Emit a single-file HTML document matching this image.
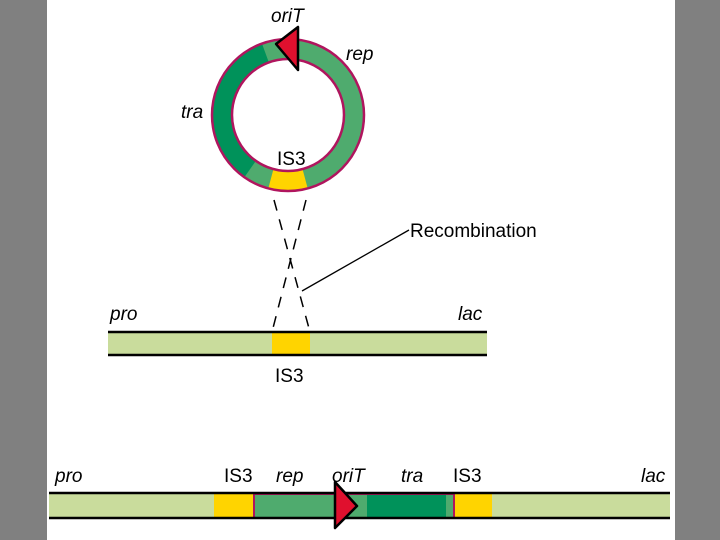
<!DOCTYPE html><html><head><style>body{margin:0}svg{display:block}text{font-family:"Liberation Sans",sans-serif;font-size:19px}</style></head><body>
<svg width="720" height="540" xmlns="http://www.w3.org/2000/svg">
<rect width="720" height="540" fill="#fff"/>
<rect x="0" y="0" width="47" height="540" fill="#808080"/>
<rect x="675" y="0" width="45" height="540" fill="#808080"/>
<!-- plasmid -->
<circle cx="288" cy="115" r="66" fill="none" stroke="#4fab6e" stroke-width="20"/>
<path d="M 250.1 169.1 A 66 66 0 0 1 265.4 53.0" fill="none" stroke="#00925a" stroke-width="20"/>
<path d="M 270.9 178.7 A 66 66 0 0 0 305.1 178.7" fill="none" stroke="#ffd400" stroke-width="20"/>
<circle cx="288" cy="115" r="76" fill="none" stroke="#b0155e" stroke-width="2.5"/>
<circle cx="288" cy="115" r="56" fill="none" stroke="#b0155e" stroke-width="2.5"/>
<polygon points="276,44 298,27 298,70" fill="#e0102e" stroke="#000" stroke-width="2.5" stroke-linejoin="round"/>
<text x="271" y="22" font-style="italic">oriT</text>
<text x="346" y="60" font-style="italic">rep</text>
<text x="181" y="118" font-style="italic">tra</text>
<text x="277" y="165">IS3</text>
<!-- crossover -->
<g stroke="#000" stroke-width="1.5" stroke-dasharray="11,9">
<line x1="274" y1="200" x2="310" y2="332"/>
<line x1="306" y1="200" x2="272" y2="332"/>
</g>
<line x1="302" y1="291" x2="409" y2="230" stroke="#000" stroke-width="1.3"/>
<text x="410" y="237">Recombination</text>
<!-- middle bar -->
<rect x="108" y="332" width="379" height="23" fill="#c9dc9c"/>
<rect x="272" y="332" width="38" height="23" fill="#ffd400"/>
<line x1="108" y1="332" x2="487" y2="332" stroke="#000" stroke-width="2.5"/>
<line x1="108" y1="355" x2="487" y2="355" stroke="#000" stroke-width="2.5"/>
<text x="110" y="320" font-style="italic">pro</text>
<text x="458" y="320" font-style="italic">lac</text>
<text x="275" y="382">IS3</text>
<!-- bottom bar -->
<rect x="49" y="494" width="621" height="24" fill="#c9dc9c"/>
<rect x="214" y="494" width="40" height="24" fill="#ffd400"/>
<rect x="454" y="494" width="38" height="24" fill="#ffd400"/>
<rect x="254" y="494" width="200" height="24" fill="#4fab6e"/>
<rect x="367" y="494" width="79" height="24" fill="#00925a"/>
<rect x="254" y="494" width="200" height="24" fill="none" stroke="#b0155e" stroke-width="2"/>
<line x1="49" y1="493" x2="670" y2="493" stroke="#000" stroke-width="2.5"/>
<line x1="49" y1="518" x2="670" y2="518" stroke="#000" stroke-width="2.5"/>
<polygon points="335,482 357,506 335,528" fill="#e0102e" stroke="#000" stroke-width="2.5" stroke-linejoin="round"/>
<text x="55" y="482" font-style="italic">pro</text>
<text x="224" y="482">IS3</text>
<text x="276" y="482" font-style="italic">rep</text>
<text x="332" y="482" font-style="italic">oriT</text>
<text x="401" y="482" font-style="italic">tra</text>
<text x="453" y="482">IS3</text>
<text x="641" y="482" font-style="italic">lac</text>
</svg></body></html>
